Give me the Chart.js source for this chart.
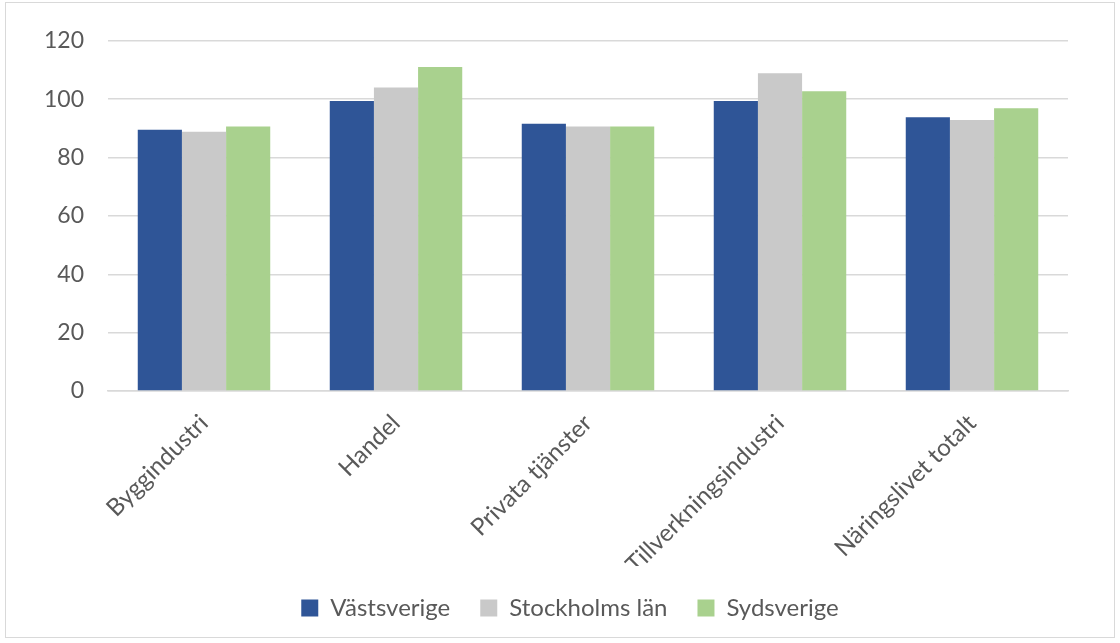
<!DOCTYPE html>
<html>
<head>
<meta charset="utf-8">
<script src="https://cdn.jsdelivr.net/npm/chart.js@4"></script>
<style>
  html, body { margin: 0; padding: 0; background: #fff; }
  #wrap { position: absolute; left: 5px; top: 2px; width: 1110px; height: 636px; border: 1px solid #d9d9d9; box-sizing: border-box; }
  canvas { display: block; }
</style>
</head>
<body>
<div id="wrap"><canvas id="chart"></canvas></div>
<script>
const categories = ['Byggindustri', 'Handel', 'Privata tjänster', 'Tillverkningsindustri', 'Näringslivet totalt'];
const vastsverige = [89.5, 99.4, 91.6, 99.4, 93.8];
const stockholm = [88.8, 104.0, 90.6, 108.9, 92.9];
const sydsverige = [90.6, 111.0, 90.6, 102.7, 96.9];

const font = "Lato, 'Open Sans', sans-serif";

const ctx = document.getElementById('chart').getContext('2d');

const data = {
  labels: categories,
  datasets: [
    { label: 'Västsverige', data: vastsverige, backgroundColor: '#2f5597' },
    { label: 'Stockholms län', data: stockholm, backgroundColor: '#c9c9c9' },
    { label: 'Sydsverige', data: sydsverige, backgroundColor: '#a9d18e' }
  ]
};

const config = {
  type: 'bar',
  data: data,
  options: {
    responsive: true,
    maintainAspectRatio: false,
    animation: false,
    categoryPercentage: 0.69,
    barPercentage: 1,
    layout: {
      padding: { left: 20, right: 0, top: 27, bottom: 7 }
    },
    plugins: {
      legend: {
        position: 'bottom',
        labels: {
          font: { family: font, size: 24 },
          color: '#595959',
          boxWidth: 17,
          boxHeight: 17,
          padding: 30
        }
      },
      tooltip: { enabled: false }
    },
    scales: {
      x: {
        afterFit: function (scale) { scale.height = 175; },
        grid: { display: false },
        border: { display: true, color: '#d9d9d9', width: 1.5 },
        ticks: {
          minRotation: 45,
          maxRotation: 45,
          color: '#595959',
          font: { family: font, size: 24 },
          padding: 10
        }
      },
      y: {
        min: 0,
        max: 120,
        afterFit: function (scale) { scale.width = 82; },
        grid: { color: '#d9d9d9', lineWidth: 1.5, drawTicks: false },
        border: { display: false },
        ticks: {
          stepSize: 20,
          color: '#595959',
          font: { family: font, size: 23 },
          padding: 24
        }
      },
      // empty spacer on the right, keeps the legend centred on the whole box
      spacer: {
        type: 'linear',
        position: 'right',
        afterFit: function (scale) { scale.width = 46; },
        grid: { display: false },
        border: { display: false },
        ticks: { display: false }
      }
    }
  }
};

const chart = new Chart(ctx, config);
</script>
</body>
</html>
